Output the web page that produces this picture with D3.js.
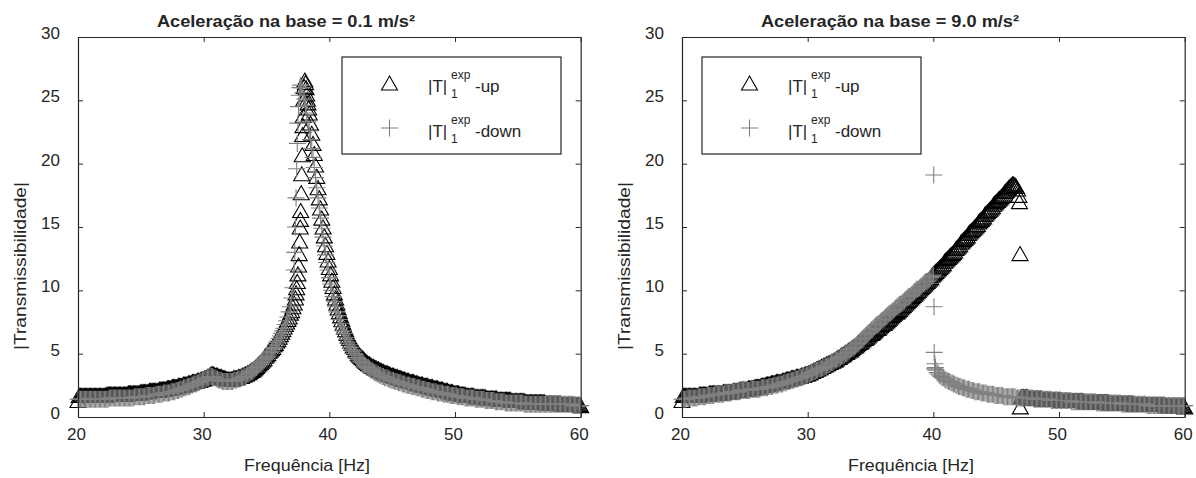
<!DOCTYPE html>
<html>
<head>
<meta charset="utf-8">
<script src="https://cdn.jsdelivr.net/npm/d3@7"></script>
<style>
  body { margin: 0; background: #fff; }
  svg { display: block; }
  text { font-family: "Liberation Sans", Arial, Helvetica, sans-serif; fill: #262626; }
</style>
</head>
<body>
<div id="chart"></div>
<script>
// frequency grid of the sweep (Hz)
var freqs = [
20.0,20.1,20.2,20.3,20.4,20.5,20.6,20.7,20.8,20.9, 21.0,21.1,21.2,21.3,21.4,21.5,21.6,21.7,21.8,21.9,
22.0,22.1,22.2,22.3,22.4,22.5,22.6,22.7,22.8,22.9, 23.0,23.1,23.2,23.3,23.4,23.5,23.6,23.7,23.8,23.9,
24.0,24.1,24.2,24.3,24.4,24.5,24.6,24.7,24.8,24.9, 25.0,25.1,25.2,25.3,25.4,25.5,25.6,25.7,25.8,25.9,
26.0,26.1,26.2,26.3,26.4,26.5,26.6,26.7,26.8,26.9, 27.0,27.1,27.2,27.3,27.4,27.5,27.6,27.7,27.8,27.9,
28.0,28.1,28.2,28.3,28.4,28.5,28.6,28.7,28.8,28.9, 29.0,29.1,29.2,29.3,29.4,29.5,29.6,29.7,29.8,29.9,
30.0,30.1,30.2,30.3,30.4,30.5,30.6,30.7,30.8,30.9, 31.0,31.1,31.2,31.3,31.4,31.5,31.6,31.7,31.8,31.9,
32.0,32.1,32.2,32.3,32.4,32.5,32.6,32.7,32.8,32.9, 33.0,33.1,33.2,33.3,33.4,33.5,33.6,33.7,33.8,33.9,
34.0,34.1,34.2,34.3,34.4,34.5,34.6,34.7,34.8,34.9, 35.0,35.1,35.2,35.3,35.4,35.5,35.6,35.7,35.8,35.9,
36.0,36.1,36.2,36.3,36.4,36.5,36.6,36.7,36.8,36.9, 37.0,37.1,37.2,37.3,37.4,37.5,37.6,37.7,37.8,37.9,
38.0,38.1,38.2,38.3,38.4,38.5,38.6,38.7,38.8,38.9, 39.0,39.1,39.2,39.3,39.4,39.5,39.6,39.7,39.8,39.9,
40.0,40.1,40.2,40.3,40.4,40.5,40.6,40.7,40.8,40.9, 41.0,41.1,41.2,41.3,41.4,41.5,41.6,41.7,41.8,41.9,
42.0,42.1,42.2,42.3,42.4,42.5,42.6,42.7,42.8,42.9, 43.0,43.1,43.2,43.3,43.4,43.5,43.6,43.7,43.8,43.9,
44.0,44.1,44.2,44.3,44.4,44.5,44.6,44.7,44.8,44.9, 45.0,45.1,45.2,45.3,45.4,45.5,45.6,45.7,45.8,45.9,
46.0,46.1,46.2,46.3,46.4,46.5,46.6,46.7,46.8,46.9, 47.0,47.1,47.2,47.3,47.4,47.5,47.6,47.7,47.8,47.9,
48.0,48.1,48.2,48.3,48.4,48.5,48.6,48.7,48.8,48.9, 49.0,49.1,49.2,49.3,49.4,49.5,49.6,49.7,49.8,49.9,
50.0,50.1,50.2,50.3,50.4,50.5,50.6,50.7,50.8,50.9, 51.0,51.1,51.2,51.3,51.4,51.5,51.6,51.7,51.8,51.9,
52.0,52.1,52.2,52.3,52.4,52.5,52.6,52.7,52.8,52.9, 53.0,53.1,53.2,53.3,53.4,53.5,53.6,53.7,53.8,53.9,
54.0,54.1,54.2,54.3,54.4,54.5,54.6,54.7,54.8,54.9, 55.0,55.1,55.2,55.3,55.4,55.5,55.6,55.7,55.8,55.9,
56.0,56.1,56.2,56.3,56.4,56.5,56.6,56.7,56.8,56.9, 57.0,57.1,57.2,57.3,57.4,57.5,57.6,57.7,57.8,57.9,
58.0,58.1,58.2,58.3,58.4,58.5,58.6,58.7,58.8,58.9, 59.0,59.1,59.2,59.3,59.4,59.5,59.6,59.7,59.8,59.9,
60.0];

// |T| at 0.1 m/s2, sweep up (triangles)
var leftUp = [
1.3,1.7,1.7,1.7,1.7,1.7,1.7,1.7,1.7,1.7, 1.7,1.7,1.7,1.7,1.7,1.7,1.7,1.7,1.7,1.7,
1.7,1.7,1.7,1.8,1.8,1.8,1.8,1.8,1.8,1.8, 1.8,1.8,1.8,1.8,1.8,1.8,1.8,1.8,1.8,1.8,
1.9,1.9,1.9,1.9,1.9,1.9,1.9,1.9,1.9,1.9, 2.0,2.0,2.0,2.0,2.0,2.0,2.0,2.1,2.1,2.1,
2.1,2.1,2.1,2.1,2.1,2.2,2.2,2.2,2.2,2.2, 2.2,2.3,2.3,2.3,2.3,2.4,2.4,2.4,2.4,2.4,
2.5,2.5,2.5,2.5,2.6,2.6,2.6,2.6,2.7,2.7, 2.7,2.8,2.8,2.8,2.8,2.9,2.9,2.9,3.0,3.0,
3.0,3.1,3.1,3.2,3.2,3.3,3.4,3.4,3.4,3.3, 3.3,3.3,3.2,3.2,3.2,3.1,3.1,3.1,3.0,3.0,
3.0,3.0,3.0,3.0,3.1,3.1,3.1,3.1,3.2,3.2, 3.2,3.3,3.3,3.4,3.4,3.5,3.5,3.6,3.7,3.7,
3.8,3.9,4.0,4.1,4.2,4.3,4.4,4.5,4.6,4.8, 4.9,5.0,5.2,5.3,5.4,5.5,5.7,5.8,6.0,6.1,
6.3,6.5,6.7,6.9,7.1,7.3,7.5,7.7,7.9,8.2, 8.4,8.7,9.0,9.4,10.2,11.3,12.9,15.6,19.2,23.0,
26.1,26.4,25.5,24.8,24.0,23.2,22.4,21.6,20.8,19.9, 19.0,18.1,17.3,16.5,15.7,15.0,14.3,13.6,13.0,12.4,
11.8,11.3,10.8,10.3,9.8,9.4,9.0,8.6,8.3,8.0, 7.7,7.4,7.1,6.9,6.6,6.4,6.2,6.0,5.8,5.6,
5.5,5.3,5.2,5.0,4.9,4.8,4.7,4.6,4.5,4.4, 4.3,4.2,4.2,4.1,4.0,4.0,3.9,3.9,3.8,3.8,
3.7,3.7,3.6,3.6,3.5,3.5,3.5,3.4,3.4,3.3, 3.3,3.3,3.2,3.2,3.2,3.1,3.1,3.1,3.0,3.0,
3.0,2.9,2.9,2.9,2.8,2.8,2.8,2.8,2.7,2.7, 2.7,2.6,2.6,2.6,2.6,2.5,2.5,2.5,2.5,2.4,
2.4,2.4,2.4,2.3,2.3,2.3,2.3,2.2,2.2,2.2, 2.2,2.1,2.1,2.1,2.1,2.0,2.0,2.0,2.0,1.9,
1.9,1.9,1.9,1.9,1.8,1.8,1.8,1.8,1.8,1.7, 1.7,1.7,1.7,1.7,1.7,1.7,1.6,1.6,1.6,1.6,
1.6,1.6,1.6,1.6,1.6,1.5,1.5,1.5,1.5,1.5, 1.5,1.5,1.5,1.5,1.4,1.4,1.4,1.4,1.4,1.4,
1.4,1.4,1.4,1.4,1.4,1.3,1.3,1.3,1.3,1.3, 1.3,1.3,1.3,1.3,1.3,1.3,1.2,1.2,1.2,1.2,
1.2,1.2,1.2,1.2,1.2,1.2,1.2,1.2,1.2,1.2, 1.2,1.2,1.1,1.1,1.1,1.1,1.1,1.1,1.1,1.1,
1.1,1.1,1.1,1.1,1.1,1.0,1.0,1.0,1.0,1.0, 1.0,1.0,1.0,1.0,1.0,1.0,1.0,1.0,1.0,1.0,
0.9];
// extra samples read on the steep resonance flank [Hz, |T|]
var leftUpPeak = [[37.35,9.8],[37.45,10.7],[37.55,12.0],[37.64,13.9],[37.68,15.0],[37.72,16.3],
  [37.76,17.7],[37.84,20.7],[37.88,22.3],[37.92,23.8],[37.96,25.1],[38.05,26.6],[38.15,26.0],
  [38.25,25.1],[38.35,24.4]];

// |T| at 0.1 m/s2, sweep down (crosses)
var leftDown = [
1.4,1.4,1.4,1.4,1.4,1.4,1.4,1.4,1.4,1.4, 1.4,1.4,1.4,1.4,1.4,1.4,1.4,1.4,1.4,1.4,
1.4,1.4,1.4,1.4,1.4,1.5,1.5,1.5,1.5,1.5, 1.5,1.5,1.5,1.5,1.5,1.5,1.5,1.5,1.5,1.5,
1.5,1.5,1.5,1.5,1.5,1.6,1.6,1.6,1.6,1.6, 1.6,1.6,1.6,1.6,1.7,1.7,1.7,1.7,1.7,1.7,
1.7,1.7,1.8,1.8,1.8,1.8,1.8,1.8,1.9,1.9, 1.9,1.9,1.9,1.9,2.0,2.0,2.0,2.0,2.1,2.1,
2.1,2.2,2.2,2.2,2.3,2.3,2.3,2.4,2.4,2.4, 2.5,2.5,2.6,2.6,2.6,2.7,2.7,2.8,2.8,2.9,
2.9,3.0,3.0,3.1,3.1,3.2,3.2,3.2,3.1,3.1, 3.0,3.0,2.9,2.9,2.9,2.8,2.8,2.8,2.8,2.8,
2.8,2.8,2.8,2.8,2.9,2.9,2.9,3.0,3.0,3.0, 3.1,3.1,3.2,3.2,3.3,3.4,3.4,3.5,3.6,3.6,
3.7,3.8,3.9,4.0,4.1,4.2,4.3,4.4,4.5,4.6, 4.7,4.8,4.9,5.1,5.2,5.4,5.5,5.7,5.9,6.0,
6.2,6.4,6.6,6.8,7.0,7.3,7.6,7.9,8.3,8.7, 9.4,10.2,11.6,15.0,19.6,23.2,25.4,26.2,26.0,25.6,
25.1,24.6,24.0,23.3,22.6,21.9,21.2,20.5,19.7,18.9, 18.1,17.3,16.5,15.7,14.9,14.2,13.5,12.8,12.2,11.6,
11.0,10.5,10.0,9.5,9.1,8.7,8.3,8.0,7.7,7.4, 7.1,6.8,6.6,6.3,6.1,5.9,5.7,5.5,5.3,5.2,
5.0,4.9,4.7,4.6,4.5,4.4,4.3,4.2,4.1,4.0, 3.9,3.9,3.8,3.7,3.7,3.6,3.5,3.5,3.4,3.4,
3.3,3.3,3.2,3.2,3.1,3.1,3.1,3.0,3.0,2.9, 2.9,2.9,2.8,2.8,2.8,2.7,2.7,2.7,2.6,2.6,
2.6,2.5,2.5,2.5,2.5,2.4,2.4,2.4,2.4,2.3, 2.3,2.3,2.3,2.2,2.2,2.2,2.2,2.1,2.1,2.1,
2.1,2.0,2.0,2.0,2.0,2.0,1.9,1.9,1.9,1.9, 1.9,1.8,1.8,1.8,1.8,1.8,1.7,1.7,1.7,1.7,
1.7,1.7,1.6,1.6,1.6,1.6,1.6,1.6,1.5,1.5, 1.5,1.5,1.5,1.5,1.5,1.5,1.4,1.4,1.4,1.4,
1.4,1.4,1.4,1.4,1.3,1.3,1.3,1.3,1.3,1.3, 1.3,1.3,1.2,1.2,1.2,1.2,1.2,1.2,1.2,1.2,
1.1,1.1,1.1,1.1,1.1,1.1,1.1,1.1,1.1,1.1, 1.1,1.1,1.1,1.1,1.1,1.0,1.0,1.0,1.0,1.0,
1.0,1.0,1.0,1.0,1.0,1.0,1.0,1.0,1.0,1.0, 1.0,1.0,1.0,1.0,1.0,1.0,1.0,1.0,1.0,1.0,
1.0,1.0,1.0,1.0,1.0,1.0,1.0,1.0,1.0,1.0, 1.0,1.0,1.0,1.0,1.0,0.9,0.9,0.9,0.9,0.9,
0.9];
var leftDownPeak = [[37.25,13.0],[37.35,17.3],[37.45,21.6],[37.55,24.5],[37.65,26.0]];

// |T| at 9.0 m/s2, sweep up (triangles)
var rightUp = [
1.3,1.7,1.7,1.7,1.7,1.7,1.7,1.7,1.7,1.7, 1.7,1.7,1.7,1.7,1.8,1.8,1.8,1.8,1.8,1.8,
1.8,1.8,1.9,1.9,1.9,1.9,1.9,1.9,1.9,1.9, 1.9,1.9,1.9,2.0,2.0,2.0,2.0,2.0,2.0,2.0,
2.0,2.1,2.1,2.1,2.1,2.1,2.2,2.2,2.2,2.2, 2.2,2.2,2.2,2.3,2.3,2.3,2.3,2.3,2.4,2.4,
2.4,2.4,2.4,2.5,2.5,2.5,2.5,2.6,2.6,2.6, 2.6,2.7,2.7,2.7,2.7,2.8,2.8,2.8,2.8,2.8,
2.9,2.9,2.9,3.0,3.0,3.0,3.0,3.1,3.1,3.1, 3.1,3.2,3.2,3.2,3.2,3.3,3.3,3.3,3.4,3.4,
3.4,3.5,3.5,3.6,3.6,3.7,3.7,3.8,3.8,3.9, 3.9,4.0,4.0,4.1,4.1,4.2,4.2,4.3,4.3,4.4,
4.4,4.5,4.5,4.6,4.7,4.7,4.8,4.9,4.9,5.0, 5.1,5.1,5.2,5.3,5.3,5.4,5.5,5.6,5.6,5.7,
5.8,5.9,5.9,6.0,6.1,6.2,6.2,6.3,6.4,6.5, 6.6,6.6,6.7,6.8,6.9,7.0,7.0,7.1,7.2,7.3,
7.4,7.4,7.5,7.6,7.7,7.8,7.9,8.0,8.1,8.2, 8.3,8.3,8.4,8.5,8.6,8.7,8.8,8.9,9.0,9.1,
9.2,9.3,9.4,9.5,9.6,9.7,9.8,9.9,10.0,10.1, 10.2,10.3,10.4,10.5,10.6,10.7,10.8,10.9,11.0,11.2,
11.3,11.4,11.5,11.6,11.7,11.8,11.9,12.0,12.1,12.3, 12.4,12.5,12.6,12.7,12.8,12.9,13.0,13.1,13.3,13.4,
13.5,13.6,13.8,13.9,14.0,14.1,14.2,14.3,14.5,14.6, 14.7,14.8,14.9,15.0,15.1,15.2,15.4,15.5,15.6,15.7,
15.8,16.0,16.1,16.2,16.3,16.4,16.5,16.6,16.8,16.9, 17.0,17.1,17.2,17.3,17.4,17.5,17.6,17.8,17.9,18.0,
18.1,18.2,18.3,18.4,18.4,18.3,18.2,18.0,17.5,12.9, 1.6,1.6,1.6,1.6,1.6,1.6,1.5,1.5,1.5,1.5,
1.5,1.5,1.5,1.5,1.5,1.5,1.5,1.4,1.4,1.4, 1.4,1.4,1.4,1.4,1.4,1.4,1.4,1.4,1.4,1.4,
1.4,1.4,1.3,1.3,1.3,1.3,1.3,1.3,1.3,1.3, 1.3,1.3,1.3,1.3,1.3,1.3,1.3,1.3,1.3,1.3,
1.2,1.2,1.2,1.2,1.2,1.2,1.2,1.2,1.2,1.2, 1.2,1.2,1.2,1.2,1.2,1.2,1.2,1.2,1.2,1.2,
1.1,1.1,1.1,1.1,1.1,1.1,1.1,1.1,1.1,1.1, 1.1,1.1,1.1,1.1,1.1,1.1,1.1,1.1,1.1,1.1,
1.0,1.0,1.0,1.0,1.0,1.0,1.0,1.0,1.0,1.0, 1.0,1.0,1.0,1.0,1.0,1.0,1.0,1.0,1.0,1.0,
1.0,1.0,1.0,1.0,1.0,0.9,0.9,0.9,0.9,0.9, 0.9,0.9,0.9,0.9,0.9,0.9,0.9,0.9,0.9,0.9,
0.8];
// samples of the jump-down at the end of the up sweep
var rightUpJump = [[46.85,17.0],[46.92,0.8]];

// |T| at 9.0 m/s2, sweep down (crosses)
var rightDown = [
1.4,1.4,1.4,1.4,1.5,1.5,1.5,1.5,1.5,1.5, 1.5,1.5,1.5,1.6,1.6,1.6,1.6,1.6,1.6,1.6,
1.7,1.7,1.7,1.7,1.7,1.7,1.8,1.8,1.8,1.8, 1.8,1.8,1.8,1.8,1.9,1.9,1.9,1.9,1.9,1.9,
2.0,2.0,2.0,2.0,2.0,2.0,2.1,2.1,2.1,2.1, 2.1,2.1,2.1,2.1,2.1,2.2,2.2,2.2,2.2,2.2,
2.2,2.2,2.2,2.3,2.3,2.3,2.3,2.3,2.3,2.4, 2.4,2.4,2.4,2.5,2.5,2.5,2.5,2.6,2.6,2.6,
2.6,2.7,2.7,2.7,2.8,2.8,2.8,2.9,2.9,2.9, 3.0,3.0,3.0,3.1,3.1,3.1,3.2,3.2,3.2,3.3,
3.3,3.4,3.4,3.5,3.5,3.6,3.6,3.7,3.7,3.8, 3.8,3.8,3.9,3.9,4.0,4.0,4.1,4.1,4.2,4.3,
4.3,4.4,4.5,4.5,4.6,4.6,4.7,4.8,4.8,4.9, 5.0,5.0,5.1,5.2,5.3,5.4,5.4,5.5,5.6,5.7,
5.8,5.9,6.0,6.1,6.2,6.3,6.4,6.5,6.6,6.7, 6.8,6.9,7.0,7.1,7.2,7.3,7.3,7.4,7.5,7.6,
7.7,7.8,7.9,8.0,8.1,8.2,8.2,8.3,8.4,8.5, 8.6,8.7,8.8,8.9,8.9,9.0,9.1,9.2,9.3,9.4,
9.5,9.5,9.6,9.7,9.8,9.9,10.0,10.1,10.1,10.2, 10.3,10.4,10.5,10.6,10.7,10.7,10.8,10.9,11.0,11.1,
11.2,3.8,3.7,3.5,3.4,3.3,3.2,3.1,3.1,3.0, 2.9,2.9,2.8,2.8,2.7,2.7,2.6,2.6,2.5,2.5,
2.4,2.4,2.4,2.3,2.3,2.3,2.2,2.2,2.2,2.2, 2.1,2.1,2.1,2.0,2.0,2.0,2.0,2.0,1.9,1.9,
1.9,1.9,1.9,1.8,1.8,1.8,1.8,1.8,1.8,1.7, 1.7,1.7,1.7,1.7,1.7,1.7,1.6,1.6,1.6,1.6,
1.6,1.6,1.6,1.6,1.6,1.6,1.5,1.5,1.5,1.5, 1.5,1.5,1.5,1.5,1.5,1.5,1.5,1.5,1.5,1.5,
1.4,1.4,1.4,1.4,1.4,1.4,1.4,1.4,1.4,1.4, 1.4,1.4,1.4,1.4,1.3,1.3,1.3,1.3,1.3,1.3,
1.3,1.3,1.3,1.3,1.3,1.3,1.3,1.3,1.3,1.3, 1.2,1.2,1.2,1.2,1.2,1.2,1.2,1.2,1.2,1.2,
1.2,1.2,1.2,1.2,1.2,1.2,1.2,1.2,1.2,1.2, 1.1,1.1,1.1,1.1,1.1,1.1,1.1,1.1,1.1,1.1,
1.1,1.1,1.1,1.1,1.1,1.1,1.1,1.1,1.1,1.1, 1.0,1.0,1.0,1.0,1.0,1.0,1.0,1.0,1.0,1.0,
1.0,1.0,1.0,1.0,1.0,1.0,1.0,1.0,1.0,1.0, 0.9,0.9,0.9,0.9,0.9,0.9,0.9,0.9,0.9,0.9,
0.9,0.9,0.9,0.9,0.9,0.9,0.9,0.9,0.9,0.9, 0.9,0.9,0.9,0.9,0.9,0.9,0.9,0.9,0.9,0.9,
0.9];
// samples of the jump-up at the end of the down sweep
var rightDownJump = [[40.03,19.1],[40.05,8.7],[40.07,5.1],[40.12,4.2],[40.16,3.9]];

var xTicks = [20, 30, 40, 50, 60];
var yTicks = [0, 5, 10, 15, 20, 25, 30];
var titles = ['Aceleração na base = 0.1 m/s²', 'Aceleração na base = 9.0 m/s²'];
var legendLabels = ['-up', '-down'];

var panels = [
  { left: 78,  title: titles[0], up: leftUp,  upExtra: leftUpPeak,  down: leftDown,  downExtra: leftDownPeak,  legendX: 264 },
  { left: 682, title: titles[1], up: rightUp, upExtra: rightUpJump, down: rightDown, downExtra: rightDownJump, legendX: 20 }
];

var W = 1196, H = 478;
var plotTop = 37, plotW = 502.7, plotH = 380;
var triPath = 'M0,-7L8,7L-8,7Z';
var plusPath = 'M-8.5,0H8.5M0,-8.5V8.5';
var axisColor = '#262626';

var svg = d3.select('#chart').append('svg')
  .attr('width', W)
  .attr('height', H);

var x = d3.scaleLinear().domain([20, 60]).range([0, plotW]);
var y = d3.scaleLinear().domain([0, 30]).range([plotH, 0]);

function toPoints(vals, extra) {
  return freqs.map(function(f, i) { return [f, vals[i]]; }).concat(extra);
}

panels.forEach(function(p) {
  var g = svg.append('g').attr('transform', 'translate(' + p.left + ',' + plotTop + ')');

  // markers: sweep up first, sweep down on top
  g.append('g').selectAll('path')
    .data(toPoints(p.up, p.upExtra))
    .join('path')
    .attr('d', triPath)
    .attr('transform', function(d) { return 'translate(' + x(d[0]) + ',' + y(d[1]) + ')'; })
    .attr('fill', 'none')
    .attr('stroke', '#000')
    .attr('stroke-width', 1.1);

  g.append('g').selectAll('path')
    .data(toPoints(p.down, p.downExtra))
    .join('path')
    .attr('d', plusPath)
    .attr('transform', function(d) { return 'translate(' + x(d[0]) + ',' + y(d[1]) + ')'; })
    .attr('fill', 'none')
    .attr('stroke', '#808080')
    .attr('stroke-width', 1.1);

  // box with inward ticks
  var xb = g.append('g').attr('transform', 'translate(0,' + plotH + ')')
    .call(d3.axisBottom(x).tickValues(xTicks).tickSize(-5).tickSizeOuter(0).tickPadding(11));
  var xt = g.append('g')
    .call(d3.axisTop(x).tickValues(xTicks).tickSize(-5).tickSizeOuter(0).tickFormat(''));
  var yl = g.append('g')
    .call(d3.axisLeft(y).tickValues(yTicks).tickSize(-5).tickSizeOuter(0).tickPadding(18));
  var yr = g.append('g').attr('transform', 'translate(' + plotW + ',0)')
    .call(d3.axisRight(y).tickValues(yTicks).tickSize(-5).tickSizeOuter(0).tickFormat(''));

  [xb, xt, yl, yr].forEach(function(a) {
    a.select('.domain').attr('stroke', axisColor).attr('stroke-width', 1.2);
    a.selectAll('.tick line').attr('stroke', axisColor);
    a.selectAll('.tick text').attr('font-size', 17).attr('fill', axisColor)
      .attr('font-family', '"Liberation Sans", Arial, sans-serif');
  });
  xb.selectAll('.tick text').attr('x', -2);
  yl.selectAll('.tick text').attr('y', -4);

  // title and axis labels
  g.append('text')
    .attr('x', 208).attr('y', 27 - plotTop)
    .attr('text-anchor', 'middle')
    .attr('font-size', 16).attr('font-weight', 'bold')
    .attr('textLength', 258).attr('lengthAdjust', 'spacingAndGlyphs')
    .text(p.title);

  g.append('text')
    .attr('x', 229).attr('y', 471 - plotTop)
    .attr('text-anchor', 'middle')
    .attr('font-size', 17)
    .attr('textLength', 126).attr('lengthAdjust', 'spacingAndGlyphs')
    .text('Frequência [Hz]');

  g.append('text')
    .attr('transform', 'translate(-52,' + (266 - plotTop) + ') rotate(-90)')
    .attr('text-anchor', 'middle')
    .attr('font-size', 17)
    .attr('textLength', 168).attr('lengthAdjust', 'spacingAndGlyphs')
    .text('|Transmissibilidade|');

  // legend
  var lg = g.append('g').attr('transform', 'translate(' + p.legendX + ',' + (57 - plotTop) + ')');
  lg.append('rect')
    .attr('width', 219).attr('height', 97)
    .attr('fill', '#fff').attr('stroke', axisColor).attr('stroke-width', 1.2);

  legendLabels.forEach(function(lab, i) {
    var ry = 26 + i * 45;
    lg.append('path')
      .attr('d', i === 0 ? triPath : plusPath)
      .attr('transform', 'translate(47.5,' + ry + ')')
      .attr('fill', 'none')
      .attr('stroke', i === 0 ? '#000' : '#808080')
      .attr('stroke-width', 1.1);
    lg.append('text').attr('x', 86).attr('y', ry + 9).attr('font-size', 17).text('|T|');
    lg.append('text').attr('x', 109).attr('y', ry - 4).attr('font-size', 12).text('exp');
    lg.append('text').attr('x', 109).attr('y', ry + 15).attr('font-size', 12).text('1');
    lg.append('text').attr('x', 133).attr('y', ry + 9).attr('font-size', 17).text(lab);
  });
});
</script>
</body>
</html>
